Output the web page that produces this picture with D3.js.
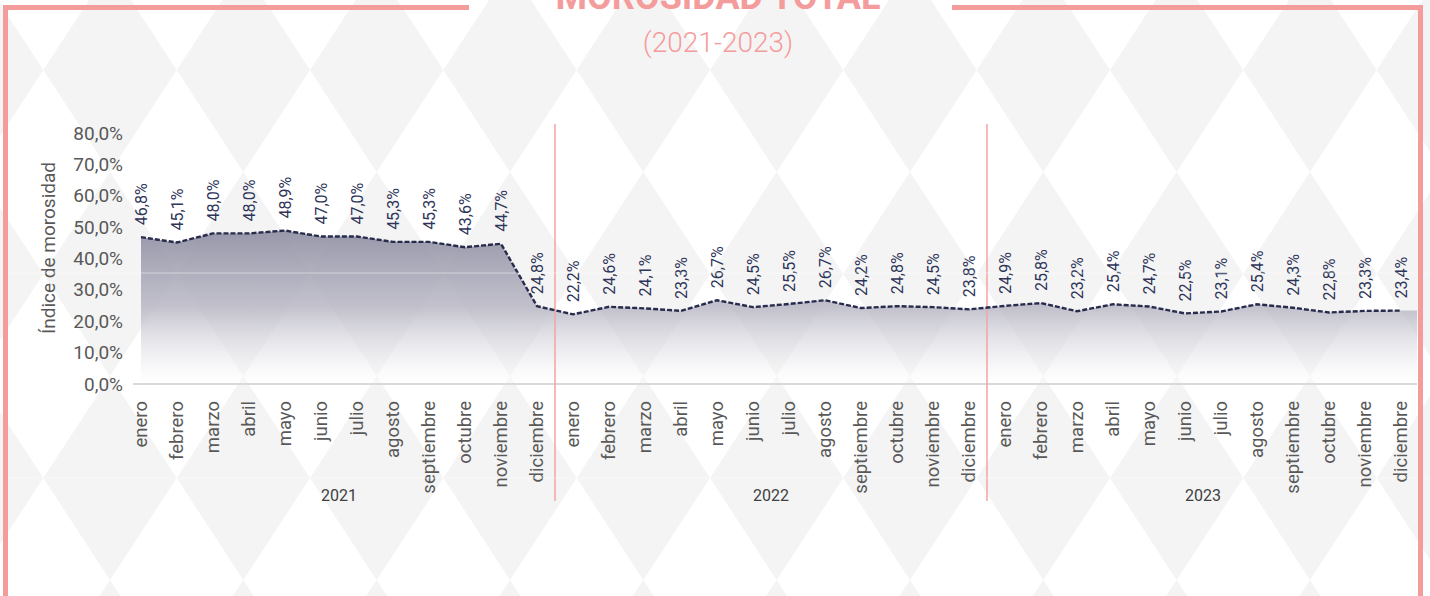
<!DOCTYPE html>
<meta charset="utf-8">
<style>
body { margin: 0; background: #fff; }
svg { display: block; font-family: Roboto, "Noto Sans", sans-serif; }
.tick text { fill: #595959; }
</style>
<svg width="1430" height="596"></svg>
<script src="https://d3js.org/d3.v7.min.js"></script>
<script>

// data
var months = ["enero","febrero","marzo","abril","mayo","junio","julio","agosto","septiembre","octubre","noviembre","diciembre"];
var years = ["2021","2022","2023"];
var values2021 = [46.8, 45.1, 48.0, 48.0, 48.9, 47.0, 47.0, 45.3, 45.3, 43.6, 44.7, 24.8];
var values2022 = [22.2, 24.6, 24.1, 23.3, 26.7, 24.5, 25.5, 26.7, 24.2, 24.8, 24.5, 23.8];
var values2023 = [24.9, 25.8, 23.2, 25.4, 24.7, 22.5, 23.1, 25.4, 24.3, 22.8, 23.3, 23.4];
var yTicks = [0, 10, 20, 30, 40, 50, 60, 70, 80];

var series = [values2021, values2022, values2023];
var data = [];
years.forEach(function(yr, yi) {
  months.forEach(function(m, mi) {
    data.push({key: yr + "-" + m, year: yr, month: m, value: series[yi][mi]});
  });
});

var pink = "#f49c9c";
var svg = d3.select("svg");

// background harlequin pattern
var bg = svg.append("g");
var dw = 133.33, dh = 204;
var centers = [];
d3.range(-1, 4).forEach(function(j) {
  d3.range(-1, 12).forEach(function(k) {
    centers.push([110 + k * dw, 70 + j * dh]);
  });
});
bg.selectAll("path").data(centers).enter().append("path")
  .attr("d", function(c) {
    return "M" + (c[0] - dw / 2) + "," + c[1] + "L" + c[0] + "," + (c[1] - dh / 2) +
      "L" + (c[0] + dw / 2) + "," + c[1] + "L" + c[0] + "," + (c[1] + dh / 2) + "Z";
  })
  .attr("fill", "#f4f4f4");

// scales
var x = d3.scaleBand().domain(data.map(function(d) { return d.key; })).range([123, 1419]);
var y = d3.scaleLinear().domain([0, 80]).range([384, 133]);
var cx = function(d) { return x(d.key) + x.bandwidth() / 2; };

// gradient for the area
var grad = svg.append("defs").append("linearGradient")
  .attr("id", "areaGrad").attr("gradientUnits", "userSpaceOnUse")
  .attr("x1", 0).attr("x2", 0).attr("y1", y(48.9)).attr("y2", y(0));
grad.append("stop").attr("offset", 0).attr("stop-color", "#908fa3").attr("stop-opacity", 0.92);
grad.append("stop").attr("offset", 0.5).attr("stop-color", "#b4b3c1").attr("stop-opacity", 0.8);
grad.append("stop").attr("offset", 1).attr("stop-color", "#ffffff").attr("stop-opacity", 0.35);

// area, stretched flat to the right plot edge
var last = data[data.length - 1];
var areaPts = data.map(function(d) { return [cx(d), y(d.value)]; });
areaPts.push([x.range()[1] - 2, y(last.value)]);
svg.append("path")
  .datum(areaPts)
  .attr("fill", "url(#areaGrad)")
  .attr("d", d3.area().x(function(p) { return p[0]; }).y0(y(0)).y1(function(p) { return p[1]; }));

// zero line
svg.append("line")
  .attr("x1", 133).attr("x2", x.range()[1] - 2)
  .attr("y1", y(0)).attr("y2", y(0))
  .attr("stroke", "#d9d9d9").attr("stroke-width", 2);

// year separators
svg.selectAll(".sep").data(years.slice(1)).enter().append("line")
  .attr("class", "sep")
  .attr("x1", function(yr) { return x(yr + "-enero"); })
  .attr("x2", function(yr) { return x(yr + "-enero"); })
  .attr("y1", 124).attr("y2", 501)
  .attr("stroke", "#f2a3a3").attr("stroke-width", 1.5);

// dashed line
svg.append("path")
  .datum(data)
  .attr("fill", "none")
  .attr("stroke", "#272c4d")
  .attr("stroke-width", 2.4)
  .attr("stroke-dasharray", "5,2")
  .attr("d", d3.line().x(cx).y(function(d) { return y(d.value); }));

// data labels
svg.selectAll(".lbl").data(data).enter().append("text")
  .attr("class", "lbl")
  .attr("transform", function(d) { return "translate(" + cx(d) + "," + y(d.value) + ") rotate(-90)"; })
  .attr("x", 12).attr("dy", "0.35em")
  .attr("fill", "#2e3558")
  .style("font-size", "16px")
  .text(function(d) { return d.value.toFixed(1).replace(".", ",") + "%"; });

// y axis
var yAxis = svg.append("g")
  .attr("transform", "translate(126,0)")
  .call(d3.axisLeft(y).tickValues(yTicks).tickSize(0).tickPadding(3)
    .tickFormat(function(d) { return d.toFixed(1).replace(".", ",") + "%"; }));
yAxis.select(".domain").remove();
yAxis.selectAll("text").style("font-size", "19px").style("font-family", "Roboto");

svg.append("text")
  .attr("transform", "translate(55,248) rotate(-90)")
  .attr("text-anchor", "middle")
  .attr("fill", "#595959")
  .style("font-size", "19px")
  .text("Índice de morosidad");

// x axis: months
var xAxis = svg.append("g")
  .attr("transform", "translate(0," + y(0) + ")")
  .call(d3.axisBottom(x).tickSize(0).tickFormat(function(k) { return k.split("-")[1]; }));
xAxis.select(".domain").remove();
xAxis.selectAll("text")
  .attr("transform", "rotate(-90)")
  .attr("x", -17).attr("y", 0).attr("dy", "0.3em")
  .attr("text-anchor", "end")
  .style("font-size", "18.5px").style("font-family", "Roboto");

// year labels
svg.selectAll(".yr").data(years).enter().append("text")
  .attr("class", "yr")
  .attr("x", function(yr) { return x(yr + "-enero") + x.bandwidth() * 6; })
  .attr("y", 501)
  .attr("text-anchor", "middle")
  .attr("fill", "#404040")
  .style("font-size", "16px")
  .text(function(yr) { return yr; });

// stitch lines of the background
svg.selectAll(".stitch").data([273, 478]).enter().append("line")
  .attr("class", "stitch")
  .attr("x1", 0).attr("x2", 1430).attr("y1", function(d) { return d; }).attr("y2", function(d) { return d; })
  .attr("stroke", "#fff").attr("stroke-width", 1).attr("stroke-opacity", 0.45);

// frame
var frame = svg.append("g").attr("stroke", pink).attr("stroke-width", 5).attr("fill", "none");
frame.append("path").attr("d", "M469,7.5H5.5V600");
frame.append("path").attr("d", "M952,7.5H1420.5V600");

// title (cut off at the top edge, as in the original)
svg.append("text")
  .attr("x", 718).attr("y", 9)
  .attr("text-anchor", "middle")
  .attr("fill", pink)
  .style("font-size", "36px").style("font-weight", "bold")
  .text("MOROSIDAD TOTAL");
svg.append("text")
  .attr("x", 718).attr("y", 52)
  .attr("text-anchor", "middle")
  .attr("fill", pink)
  .style("font-size", "28px").style("font-weight", 300)
  .text("(2021-2023)");

</script>
